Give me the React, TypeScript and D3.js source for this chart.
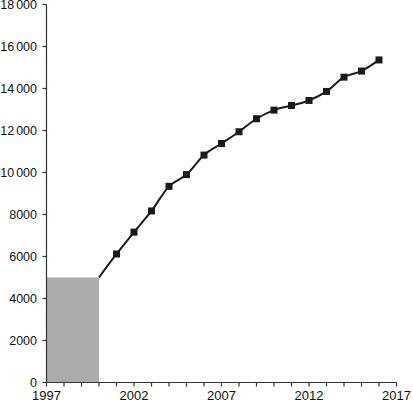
import React from "react";
import * as d3 from "d3";

const years = [2000, 2001, 2002, 2003, 2004, 2005, 2006, 2007, 2008, 2009, 2010, 2011, 2012, 2013, 2014, 2015, 2016];
const values = [5000, 6120, 7160, 8170, 9340, 9900, 10830, 11380, 11940, 12560, 12970, 13190, 13430, 13860, 14540, 14830, 15360];
const baseStart = 1997;
const baseEnd = 2000;
const baseValue = 5000;
const yTicks = [0, 2000, 4000, 6000, 8000, 10000, 12000, 14000, 16000, 18000];
const xLabelTicks = [1997, 2002, 2007, 2012, 2017];

const W = 413;
const H = 402;
const left = 46.5;
const right = 396.5;
const top = 4.5;
const bottom = 382.5;

function splitLabel(v: number): [string, string] {
  const s = String(v);
  if (s.length >= 5) return [s.slice(0, s.length - 3), s.slice(s.length - 3)];
  return ["", s];
}

export default function App() {
  const x = d3.scaleLinear().domain([1997, 2017]).range([left, right]);
  const y = d3.scaleLinear().domain([0, 18000]).range([bottom, top]);
  const line = d3
    .line<number>()
    .x((_, i) => x(years[i]))
    .y((v) => y(v))
    .curve(d3.curveMonotoneX);
  const minorTicks = d3.range(1997, 2018);
  const axisColor = "#333";
  return (
    <svg
      width={W}
      height={H}
      style={{ position: "absolute", left: 0, top: 0 }}
      fontFamily="'Liberation Sans', Arial, sans-serif"
      fontSize={13}
    >
      <rect
        x={x(baseStart)}
        y={y(baseValue)}
        width={x(baseEnd) - x(baseStart)}
        height={y(0) - y(baseValue)}
        fill="#ababab"
      />
      <path d={line(values) || ""} fill="none" stroke="#1a1a1a" strokeWidth={2} />
      {years.slice(1).map((yr, i) => (
        <rect
          key={yr}
          x={x(yr) - 3.5}
          y={y(values[i + 1]) - 3.5}
          width={7}
          height={7}
          fill="#1a1a1a"
        />
      ))}
      {/* y axis */}
      <line x1={left} x2={left} y1={top} y2={bottom} stroke={axisColor} strokeWidth={1.2} />
      {yTicks.map((t) => {
        const [a, b] = splitLabel(t);
        return (
          <g key={t}>
            <line x1={left - 4} x2={left} y1={y(t)} y2={y(t)} stroke={axisColor} strokeWidth={1.2} />
            <text x={37} y={y(t) + 4.5} textAnchor="end" fill="#111" fontSize={12.5}>
              {a ? <tspan>{a}</tspan> : null}
              <tspan dx={a ? 2 : 0}>{b}</tspan>
            </text>
          </g>
        );
      })}
      {/* x axis */}
      <line x1={left} x2={right} y1={bottom} y2={bottom} stroke={axisColor} strokeWidth={1.2} />
      {minorTicks.map((t) => (
        <line key={t} x1={x(t)} x2={x(t)} y1={bottom} y2={bottom + 4} stroke={axisColor} strokeWidth={1.2} />
      ))}
      {xLabelTicks.map((t) => (
        <text key={t} x={x(t)} y={400} textAnchor="middle" fill="#111">
          {t}
        </text>
      ))}
    </svg>
  );
}
